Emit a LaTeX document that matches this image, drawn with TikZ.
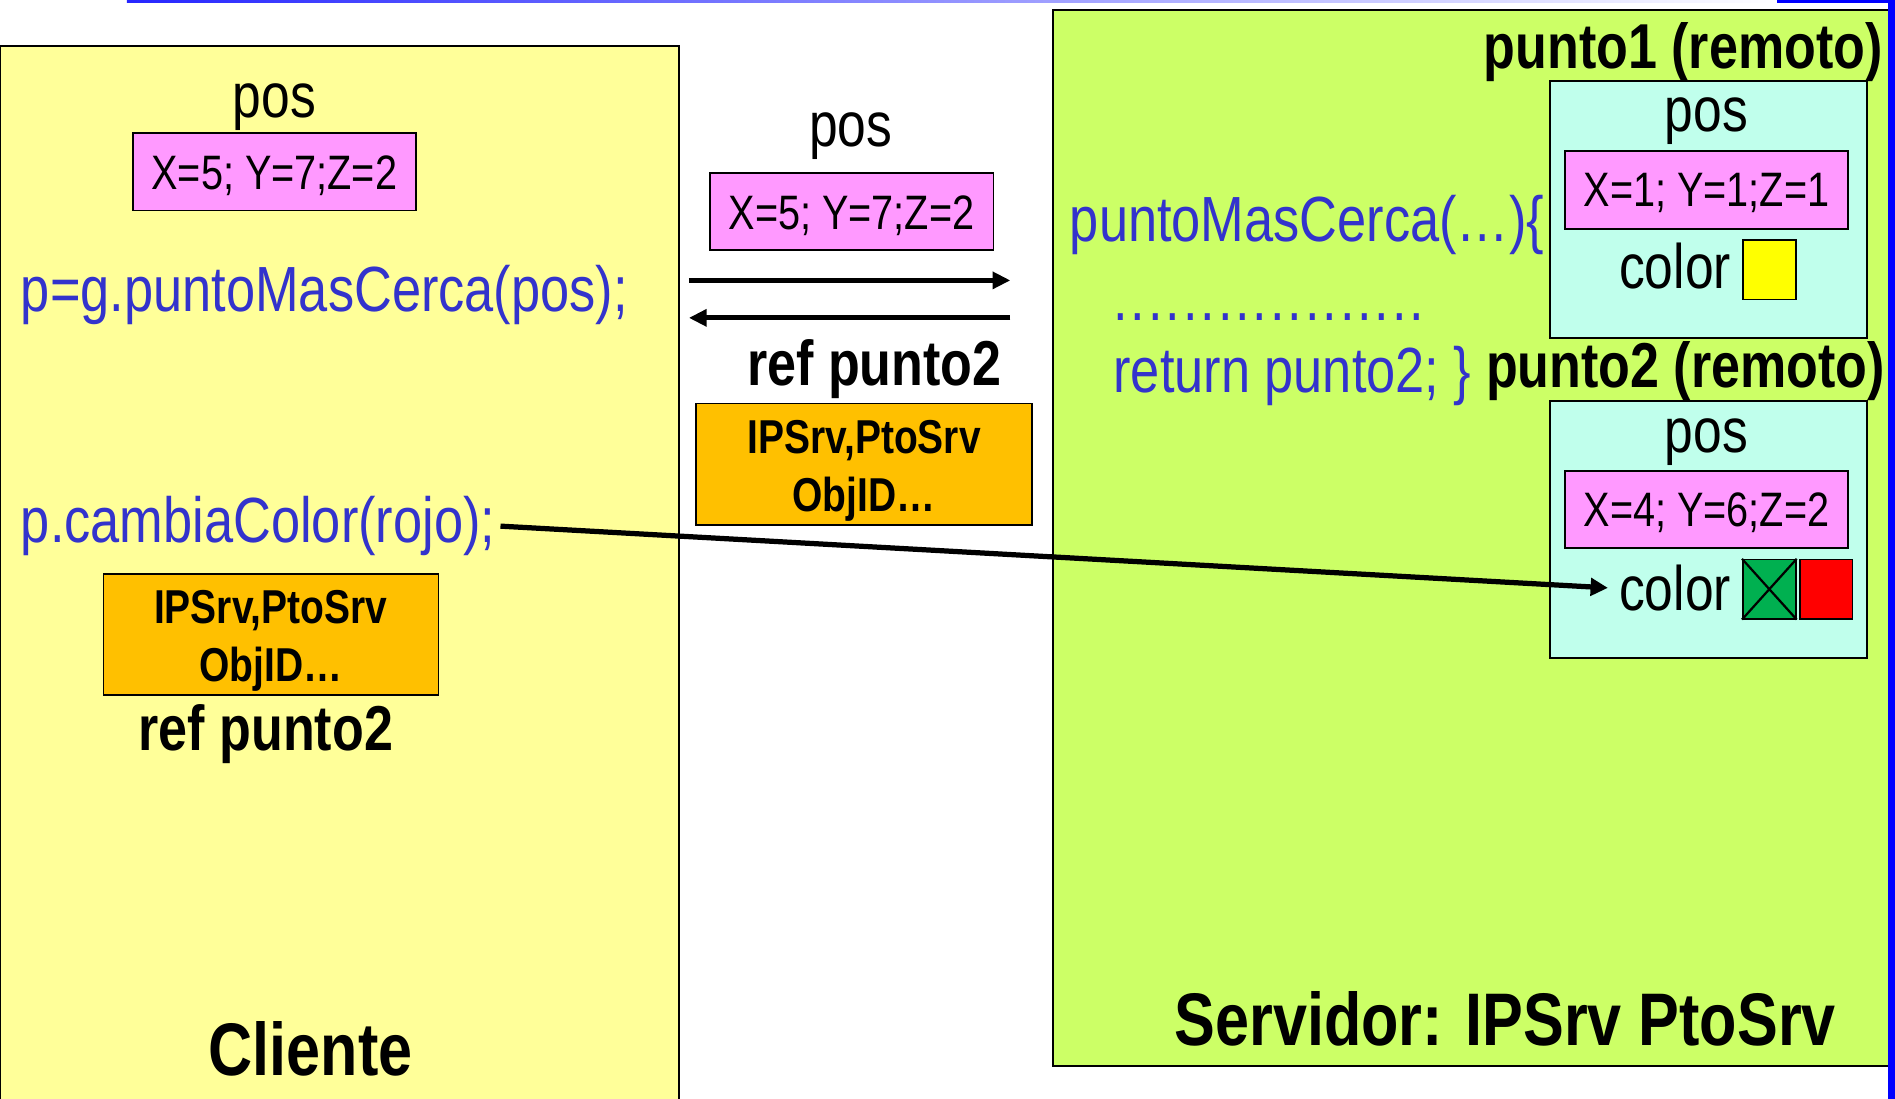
\documentclass[tikz,border=0pt]{standalone}
\usepackage{fontspec}
\setmainfont{Liberation Sans}[FakeStretch=0.82]
\usetikzlibrary{fit,arrows.meta}

\definecolor{clientbg}{HTML}{FFFF99}
\definecolor{serverbg}{HTML}{CCFF66}
\definecolor{objbg}{RGB}{192,255,236}
\definecolor{pospink}{HTML}{FF99FF}
\definecolor{reforange}{HTML}{FFC000}
\definecolor{codeblue}{HTML}{3333CC}
\definecolor{sqgreen}{HTML}{00B050}
\definecolor{sqred}{HTML}{FF0000}
\definecolor{sqyellow}{HTML}{FFFF00}
\definecolor{barblue}{HTML}{0000FF}

\begin{document}
\begin{tikzpicture}[x=0.6pt,y=-0.6pt,
  area/.style={draw, line width=0.9pt, inner sep=0pt},
  objbox/.style={draw, fill=objbg, line width=0.9pt, inner sep=0pt},
  posbox/.style={draw, fill=pospink, line width=0.75pt, inner sep=0pt},
  refbox/.style={draw, fill=reforange, line width=0.75pt, inner sep=0pt},
  colsq/.style={draw, line width=0.75pt, inner sep=0pt},
  lbl/.style={inner sep=0pt, anchor=base, font=\fontsize{31.2pt}{36pt}\selectfont},
  code/.style={inner sep=0pt, text=codeblue, anchor=base west, font=\fontsize{31.7pt}{36pt}\selectfont},
  val/.style={inner sep=0pt, anchor=base, font=\fontsize{24pt}{28pt}\selectfont},
  head/.style={inner sep=0pt, anchor=base, font=\bfseries\fontsize{31.5pt}{36pt}\selectfont},
  title/.style={inner sep=0pt, anchor=base, font=\bfseries\fontsize{37pt}{42pt}\selectfont},
  reftext/.style={inner sep=0pt, align=center, font=\bfseries\fontsize{23.6pt}{28.8pt}\selectfont},
  msg/.style={line width=2.6pt, -{Triangle[length=8.8pt,width=8.2pt]}},
  conn/.style={line width=2.6pt, -{Triangle[length=8.6pt,width=8.6pt]}}
]
\useasboundingbox (0,0) rectangle (1568,909);

% page decoration: top rule and right bar
\shade[left color=barblue!85!white, right color=white] (105,0) rectangle (1470,1.8);
\fill[barblue] (1470,0) rectangle (1568,2.5);

% client and server areas
\node[area, fill=clientbg, fit={(0,38) (562,915)}] (cliente) {};
\node[area, fill=serverbg, fit={(871,8) (1563,882)}] (servidor) {};
\fill[barblue] (1562,0) rectangle (1568,909);

% ---------------- client side ----------------
\node[lbl] (lpos) at (227,97) {pos};
\node[posbox, fit={(110,110) (344,174)}] (lposbox) {};
\node[val] (lposval) at (227,157) {X=5; Y=7;Z=2};
\node[code] (callA) at (17,258) {p=g.puntoMasCerca(pos);};
\node[code] (callB) at (17,449) {p.cambiaColor(rojo);};
\node[refbox, fit={(85.7,475) (363,575)}] (lrefbox) {};
\node[reftext] (lreftxt) at (224,530.5) {IPSrv,PtoSrv\\ObjID…};
\node[head] (lref) at (220,621) {ref punto2};
\node[title] (lcli) at (257,890) {Cliente};

% ---------------- messages ----------------
\node[lbl] (mpos) at (704,121.5) {pos};
\node[posbox, fit={(587.5,143) (822,207)}] (mposbox) {};
\node[val] (mposval) at (704.5,190) {X=5; Y=7;Z=2};
\coordinate (reqL) at (570,232);
\coordinate (reqR) at (836,232);
\coordinate (repL) at (570,263);
\coordinate (repR) at (836,263);
\draw[msg] (reqL) -- (reqR);
\draw[msg] (repR) -- (repL);
\node[head] (mref) at (723.5,318.6) {ref punto2};
\node[refbox, fit={(576,334) (854,434.5)}] (mrefbox) {};
\node[reftext] (mreftxt) at (715,389.5) {IPSrv,PtoSrv\\ObjID…};

% ---------------- server side ----------------
\node[code] (srvA) at (885,200) {puntoMasCerca(…)\{};
\node[code] (srvB) at (921,265) {\addfontfeature{LetterSpace=4.5}..................};
\node[code] (srvC) at (921,325) {return punto2; \}};

\node[head, anchor=base east] (p1head) at (1558,56.5) {punto1 (remoto)};
\node[objbox, fit={(1282.5,67) (1545,279.5)}] (p1) {};
\node[lbl] (p1pos) at (1412,109) {pos};
\node[posbox, fit={(1295,125) (1529,189.5)}] (p1posbox) {};
\node[val] (p1val) at (1412,171) {X=1; Y=1;Z=1};
\node[lbl] (p1col) at (1386,238.6) {color};
\node[colsq, fill=sqyellow, fit={(1442,198.6) (1486,247.8)}] (p1yel) {};

\node[head, anchor=base east] (p2head) at (1560,321) {punto2 (remoto)};
\node[objbox, fit={(1282.5,332) (1545,544.5)}] (p2) {};
\node[lbl] (p2pos) at (1412,374) {pos};
\node[posbox, fit={(1295,389.6) (1529,453.6)}] (p2posbox) {};
\node[val] (p2val) at (1412,436) {X=4; Y=6;Z=2};
\node[lbl] (p2col) at (1386,505) {color};
\node[colsq, fill=sqgreen, fit={(1442,463) (1486,512)}] (p2old) {};
\draw[line width=1.1pt] (p2old.north west) -- (p2old.south east)
                        (p2old.north east) -- (p2old.south west);
\node[colsq, fill=sqred, fit={(1489.5,463) (1533,512)}] (p2new) {};

\node[title] (srvname) at (1245.5,865) {Servidor: IPSrv PtoSrv};

% remote invocation
\draw[conn] ([xshift=2.4pt]callB.east) -- ([xshift=-5.4pt]p2col.west);
\end{tikzpicture}
\end{document}
